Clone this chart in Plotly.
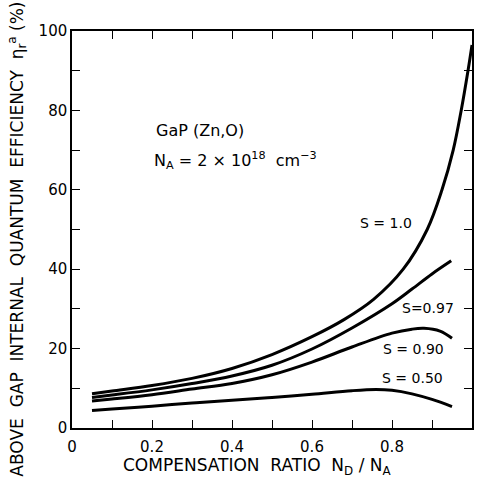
import plotly.graph_objects as go

# Compensation ratio N_D/N_A vs efficiency (%) for each S
x_s100 = [0.05, 0.1, 0.2, 0.3, 0.4, 0.5, 0.6, 0.68, 0.754, 0.828, 0.888, 0.925, 0.953, 0.973, 0.99, 1.0]
y_s100 = [8.6, 9.3, 10.7, 12.5, 15.0, 18.5, 23.0, 27.3, 32.4, 40.0, 50.0, 60.0, 70.0, 80.0, 90.0, 96.5]

x_s097 = [0.05, 0.1, 0.2, 0.3, 0.4, 0.5, 0.6, 0.7, 0.8, 0.85, 0.9, 0.948]
y_s097 = [7.7, 8.3, 9.6, 11.2, 13.1, 15.8, 19.9, 25.2, 31.3, 35.0, 38.8, 42.1]

x_s090 = [0.05, 0.1, 0.2, 0.3, 0.4, 0.5, 0.6, 0.7, 0.8, 0.85, 0.88, 0.92, 0.95]
y_s090 = [6.8, 7.3, 8.4, 9.8, 11.2, 13.4, 16.6, 20.4, 23.9, 24.9, 25.1, 24.4, 22.6]

x_s050 = [0.05, 0.1, 0.2, 0.3, 0.4, 0.5, 0.6, 0.7, 0.76, 0.8, 0.85, 0.9, 0.95]
y_s050 = [4.4, 4.8, 5.5, 6.3, 7.0, 7.7, 8.5, 9.4, 9.7, 9.5, 8.6, 7.2, 5.4]

curve_labels = ["S = 1.0", "S=0.97", "S = 0.90", "S = 0.50"]
label_x = [0.786, 0.89, 0.853, 0.85]
label_y = [51.6, 30.2, 19.9, 12.7]

x_tickvals = [0.0, 0.1, 0.2, 0.3, 0.4, 0.5, 0.6, 0.7, 0.8, 0.9, 1.0]
x_ticktext = ["0", "", "0.2", "", "0.4", "", "0.6", "", "0.8", "", "1.0"]
y_tickvals = [0, 10, 20, 30, 40, 50, 60, 70, 80, 90, 100]
y_ticktext = ["0", "", "20", "", "40", "", "60", "", "80", "", "100"]

FONT = "DejaVu Sans"

fig = go.Figure()
for xs, ys in [(x_s100, y_s100), (x_s097, y_s097), (x_s090, y_s090), (x_s050, y_s050)]:
    fig.add_trace(go.Scatter(x=xs, y=ys, mode="lines",
                             line=dict(color="black", width=3, shape="spline", smoothing=1.0),
                             showlegend=False, hoverinfo="skip"))

for t, lx, ly in zip(curve_labels, label_x, label_y):
    fig.add_annotation(x=lx, y=ly, text=t, showarrow=False,
                       font=dict(family=FONT, size=14, color="black"))

fig.add_annotation(x=0.205, y=75, text="GaP (Zn,O)", showarrow=False, xanchor="left",
                   font=dict(family=FONT, size=16, color="black"))
fig.add_annotation(x=0.2, y=67.5, text="N<sub>A</sub> = 2 × 10<sup>18</sup>  cm<sup>−3</sup>",
                   showarrow=False, xanchor="left",
                   font=dict(family=FONT, size=16, color="black"))

# Axis titles placed as annotations for precise positioning
fig.add_annotation(xref="paper", yref="paper", x=0.463, y=-0.098,
                   text="COMPENSATION  RATIO  N<sub>D</sub> / N<sub>A</sub>",
                   showarrow=False, xanchor="center", yanchor="middle",
                   font=dict(family=FONT, size=17, color="black"))
fig.add_annotation(xref="paper", yref="paper", x=-0.137, y=0.475, textangle=-90,
                   text="ABOVE  GAP  INTERNAL  QUANTUM  EFFICIENCY  η<sub>r</sub><sup>a</sup> (%)",
                   showarrow=False, xanchor="center", yanchor="middle",
                   font=dict(family=FONT, size=17, color="black"))

axis_common = dict(showline=True, linecolor="black", linewidth=1.5, mirror="ticks",
                   ticks="inside", ticklen=8, tickwidth=1.2, tickcolor="black",
                   showgrid=False, zeroline=False,
                   tickfont=dict(family=FONT, size=15, color="black"))

fig.update_xaxes(range=[0, 1.0], tickvals=x_tickvals, ticktext=x_ticktext,
                 ticklabelstandoff=4, **axis_common)
fig.update_yaxes(range=[0, 100], tickvals=y_tickvals, ticktext=y_ticktext,
                 **axis_common)

fig.update_layout(width=482, height=493, margin=dict(l=72, r=8, t=31, b=65),
                  plot_bgcolor="white", paper_bgcolor="white",
                  font=dict(family=FONT, color="black"))

fig.write_html("out.html")
